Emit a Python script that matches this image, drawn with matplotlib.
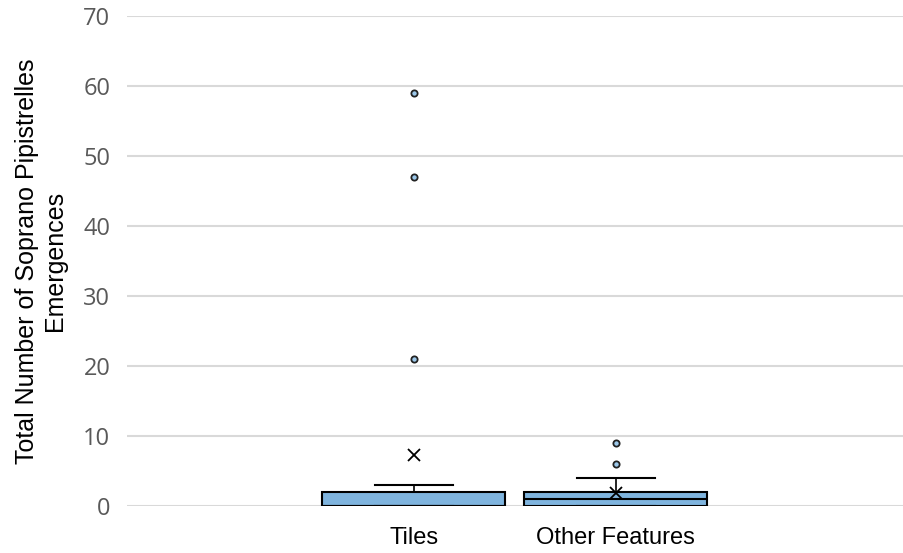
import matplotlib
matplotlib.use("Agg")
import matplotlib.pyplot as plt

categories = ["Tiles", "Other Features"]
q1 = [0, 0]
median = [0, 1]
q3 = [2, 2]
whislo = [0, 0]
whishi = [3, 4]
means = [7.3, 1.8]
outliers = [[21, 47, 59], [6, 9]]
yticks = [0, 10, 20, 30, 40, 50, 60, 70]

fig = plt.figure(figsize=(9.04, 5.53), dpi=100)
ax = fig.add_axes([127/904, 1-506/553, 777/904, 490/553])
stats = []
for i in range(2):
    stats.append(dict(label=categories[i], q1=q1[i], med=median[i], q3=q3[i],
                      whislo=whislo[i], whishi=whishi[i], mean=means[i], fliers=outliers[i]))
pos = [0.369, 0.629]
ax.bxp(stats, positions=pos, widths=0.2355, patch_artist=True, showmeans=True,
       boxprops=dict(facecolor="#7FB4DE", edgecolor="black", linewidth=1.5),
       medianprops=dict(color="black", linewidth=1.5),
       whiskerprops=dict(color="black", linewidth=1.2),
       capprops=dict(color="black", linewidth=1.5),
       capwidths=0.1,
       meanprops=dict(marker="x", markeredgecolor="black", markersize=8, markeredgewidth=1.3),
       flierprops=dict(marker="o", markerfacecolor="#9CC8EA", markeredgecolor="#222222", markersize=4.5, markeredgewidth=1.3),
       zorder=3)
ax.set_xlim(0, 1)
ax.set_ylim(0, 70)
ax.set_yticks(yticks)
ax.yaxis.grid(True, color="#d9d9d9", linewidth=1.5, zorder=0)
ax.set_axisbelow(True)
for s in ax.spines.values():
    s.set_visible(False)
ax.tick_params(axis="y", length=0, labelsize=17, labelcolor="#595959", pad=12)
ax.tick_params(axis="x", length=0, labelsize=17, pad=15)
ax.set_xticks(pos)
ax.set_xticklabels(categories, fontfamily="Liberation Sans")
for t in ax.get_yticklabels():
    t.set_fontfamily("Open Sans")
ax.set_ylabel("Total Number of Soprano Pipistrelles\nEmergences", fontsize=18, fontfamily="Liberation Sans", labelpad=12)
fig.savefig("out.png", dpi=100)
